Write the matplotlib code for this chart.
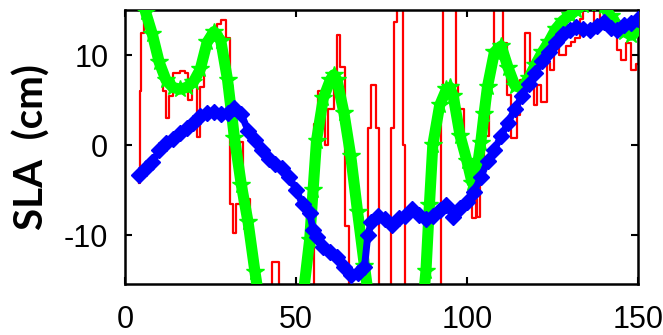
import matplotlib
matplotlib.use("Agg")
import matplotlib.pyplot as plt


# SLA along track: red = raw (step), green = model, blue = smoothed

red_x = [4.0, 4.3, 4.8, 5.6, 7, 8, 9, 10, 11, 12, 13, 14, 16, 17.5, 18.5, 19.5,
         21, 22, 23, 24, 25.5, 27, 28, 29.5, 30.8, 31.5, 32.5, 33.5, 34.5, 35.5,
         36.5, 37.5, 43, 45, 55.2, 56.5, 57.5, 58.5, 59.5, 61, 62, 63, 64.3, 65.5,
         71, 72, 73.5, 74.2, 77.8, 78.6, 79.4, 81.2, 82, 92.3, 93, 95, 96.7, 97.5,
         99, 100, 101.5, 102.5, 103, 103.8, 105, 106.5, 108, 110.6, 111.7, 113,
         114.5, 115.6, 117, 118.4, 119.5, 120.4, 121.5, 123.4, 124.3, 125.5, 127,
         129, 130.5, 131.5, 133, 134, 137, 139, 141.5, 143.8, 145, 146.5, 148,
         149.5, 150]
red_y = [-4.2, 6.0, 12.4, 14.5, 14.0, 12.0, 10.0, 8.0, 6.0, 3.0, 5.5, 8.0, 8.2,
         8.0, 5.0, 7.5, 0.9, 6.5, 10.9, 12.0, 12.5, 13.5, 13.9, 11.9, -6.5, -9.8,
         -6.5, 0.3, -4.4, -6.0, -10.0, -16.0, -13.0, -16.0, 2.3, 6.0, 3.5, 0.0,
         4.0, 8.0, 12.2, 8.7, -9.0, -16.0, 1.9, 6.7, 1.9, -16.0, 1.9, 13.7, 16.0,
         0.0, -16.0, 5.6, 16.0, 16.0, 6.7, 4.0, -2.2, -2.5, -8.1, -6.0, -8.0,
         -3.0, 1.0, 8.0, 16.0, 11.3, 5.6, 0.8, 3.3, 7.2, 12.4, 9.0, 4.4, 6.7, 4.8,
         9.1, 8.3, 12.0, 10.0, 11.0, 11.5, 11.9, 14.0, 16.0, 13.0, 16.0, 13.0,
         10.6, 9.4, 11.3, 8.3, 9.0, 9.0]

green_x = [4, 6, 8, 10, 12, 14, 16, 18, 20, 22, 24, 26, 28, 30, 32, 34, 36, 38,
           40, 50, 52, 54, 55, 56, 58, 60, 61, 62, 64, 66, 68, 70, 72, 86, 88, 89,
           90, 92, 94, 95, 96, 98, 100, 101.5, 103, 104, 105, 106, 108, 110, 112,
           114, 116, 118, 120, 122, 124, 126, 128, 130, 132, 134, 136, 138, 140,
           142, 144, 146, 148, 150]
green_y = [19.0, 14.8, 12.3, 9.2, 7.2, 6.4, 6.2, 6.4, 7.0, 8.4, 11.4, 12.6,
           11.6, 7.2, 0.8, -4.4, -8.6, -14.1, -19.0, -22.0, -17.0, -10.5, -5.0,
           0.5, 5.2, 7.2, 7.8, 7.2, 3.6, -1.2, -7.4, -13.4, -19.0, -22.0, -14.0,
           -6.7, 0.0, 4.4, 6.2, 6.4, 5.4, 1.0, -1.8, -4.2, -2.5, 0.2, 3.5, 6.5,
           10.3, 11.0, 8.6, 6.6, 6.3, 7.4, 8.9, 10.3, 11.5, 12.9, 13.8, 14.4,
           15.0, 15.6, 15.8, 15.8, 15.4, 14.3, 13.3, 12.6, 12.2, 12.6]

blue_x = [4, 6, 8, 10, 12, 14, 16, 18, 20, 22, 24, 26, 28, 30, 32, 34, 36, 38,
          40, 42, 44, 46, 48, 50, 52, 54, 55, 56, 58, 60, 62, 64, 66, 68, 70, 71,
          72, 74, 76, 78, 80, 82, 84, 86, 88, 90, 92, 94, 96, 98, 100, 102, 104,
          106, 108, 110, 112, 114, 116, 118, 120, 122, 124, 126, 128, 130, 132,
          134, 136, 138, 140, 142, 144, 146, 148, 150]
blue_y = [-3.3, -2.6, -1.9, -0.6, 0.2, 0.7, 1.3, 1.9, 2.4, 3.2, 3.6, 3.7, 3.4,
          3.6, 4.1, 3.4, 1.6, 0.6, -0.6, -1.5, -2.1, -2.6, -3.5, -5.0, -6.6,
          -7.6, -9.4, -10.2, -11.3, -11.9, -12.4, -13.6, -14.4, -14.2, -13.6,
          -10.0, -8.6, -7.9, -8.2, -8.9, -8.1, -7.9, -7.1, -7.8, -8.2, -7.9,
          -7.2, -6.7, -8.0, -7.0, -6.3, -5.2, -3.6, -1.8, -0.5, 1.0, 2.5, 4.0,
          5.4, 6.8, 8.0, 9.3, 10.3, 11.5, 12.3, 12.8, 13.1, 12.9, 12.8, 13.2,
          13.7, 13.0, 12.8, 13.3, 13.6, 14.0]

x_ticks = [0, 50, 100, 150]
y_ticks = [-10, 0, 10]

plt.rcParams["axes.unicode_minus"] = False

fig = plt.figure(figsize=(6.63, 3.35), dpi=100)
ax = fig.add_axes([125 / 663, 1 - 284 / 335, 513 / 663, 274 / 335])

ax.step(red_x, red_y, where="post", color="#ff0000", linewidth=1.6, zorder=2)

ax.plot(green_x, green_y, color="#00ff00", linewidth=8,
        marker="*", markersize=13, zorder=3)

ax.plot(blue_x, blue_y, color="#0000ff", linewidth=5,
        marker="D", markersize=8, zorder=4)

ax.set_xlim(0, 150)
ax.set_ylim(-15.44, 15)
ax.set_xticks(x_ticks)
ax.set_yticks(y_ticks)

ax.tick_params(direction="in", length=5, width=1.5, top=True, right=True,
               labelsize=22, colors="black")
ax.tick_params(axis="x", pad=15)
ax.tick_params(axis="y", pad=12)

for label in ax.get_xticklabels() + ax.get_yticklabels():
    label.set_family("Liberation Sans")

for spine in ax.spines.values():
    spine.set_linewidth(1.8)

ax.set_ylabel("SLA  (cm)", fontsize=29, fontweight="bold", family="Lato")
ax.yaxis.set_label_coords(-0.145, 0.5)

fig.savefig("out.png", dpi=100)
